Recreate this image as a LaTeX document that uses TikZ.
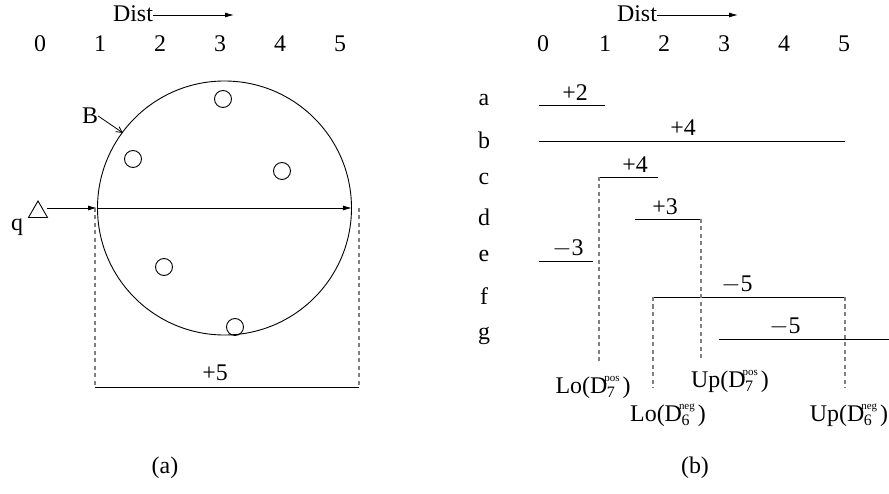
\documentclass[tikz,border=0pt]{standalone}
\usepackage{fontspec}
\setmainfont{Liberation Serif}
\usetikzlibrary{arrows.meta,shapes.geometric}
\newcommand\supsub[2]{%
  \setbox0=\hbox{\fontsize{11}{11}\selectfont #1}%
  \setbox2=\hbox{\fontsize{16}{16}\selectfont #2}%
  \ifdim\wd0>\wd2 \dimen0=\wd0 \else \dimen0=\wd2 \fi
  \hbox to \dimen0{\rlap{\kern-3bp\raise12bp\box0}\kern-0.5bp\lower4bp\box2\hss}}
\begin{document}
\begin{tikzpicture}[x=1bp,y=-1bp,
  txt/.style={inner sep=0pt,font=\fontsize{24}{26}\selectfont},
  seg/.style={line width=0.9bp},
  dsh/.style={line width=1.1bp,gray,dash pattern=on 4bp off 3.5bp},
  arr/.style={-{Latex[length=9bp,width=5bp]},line width=0.9bp},
  small/.style={circle,draw,line width=0.9bp,minimum size=17bp,inner sep=0pt}]
\useasboundingbox (0,0) rectangle (889,494);
% ---------- panel (a)
\node[txt] (dl) at (133,14) {Dist};
\coordinate (dle) at (234,15);
\draw[arr] (dl.east |- dle) -- (dle);
\foreach \i/\x in {0/40,1/100,2/160,3/220,4/280,5/340}
  \node[txt] (l\i) at (\x,44) {\i};
\node[circle,draw,line width=0.9bp,minimum size=254bp,inner sep=0pt] (C) at (224.5,208) {};
\node[small] (s1) at (223,99) {};
\node[small] (s2) at (133,159) {};
\node[small] (s3) at (282,171) {};
\node[small] (s4) at (164,267) {};
\node[small] (s5) at (235,327) {};
\node[txt] (B) at (90,116) {B};
\coordinate (bb) at (123,133);
\draw[-{Straight Barb[length=6bp,width=6bp]},line width=0.8bp] (B.east) -- (bb);
\node[txt] (q) at (17,227) {q};
\node[draw,regular polygon,regular polygon sides=3,minimum size=22bp,inner sep=0pt,line width=0.9bp] (tri) at (38,212) {};
\coordinate (qa) at (47,208);
\draw[arr] (qa) -- (C.west);
\draw[arr] (C.west) -- (C.east);
\coordinate (tl) at (95,208);
\coordinate (bl) at (95,387);
\coordinate (tr) at (359,208);
\coordinate (br) at (359,387);
\draw[dsh] (tl) -- (bl);
\draw[dsh] (tr) -- (br);
\draw[seg] (bl) -- (br);
\node[txt] (p5) at (215,373) {+5};
\node[txt] (capa) at (165,468) {(a)};
% ---------- panel (b)
\node[txt] (dr) at (637,14) {Dist};
\coordinate (dre) at (738,15);
\draw[arr] (dr.east |- dre) -- (dre);
\foreach \i/\x in {0/543,1/605,2/664,3/724,4/784,5/844}
  \node[txt] (r\i) at (\x,44) {\i};
\foreach \n/\y in {a/100,b/140,c/179,d/217,e/256,f/296,g/336}
  \node[txt] (row\n) at (484,\y) {\n};
% a
\coordinate (a1) at (539,105); \coordinate (a2) at (605,105);
\draw[seg] (a1) -- (a2);
\node[txt] (la) at (575,93) {+2};
% b
\coordinate (b1) at (539,141); \coordinate (b2) at (845,141);
\draw[seg] (b1) -- (b2);
\node[txt] (lb) at (683,128) {+4};
% c
\coordinate (c1) at (599,177); \coordinate (c2) at (658,177);
\draw[seg] (c1) -- (c2);
\node[txt] (lc) at (635,165) {+4};
% d
\coordinate (d1) at (635,219); \coordinate (d2) at (701,219);
\draw[seg] (d1) -- (d2);
\node[txt] (ld) at (665,207) {+3};
% e
\coordinate (e1) at (539,261); \coordinate (e2) at (593,261);
\draw[seg] (e1) -- (e2);
\node[txt] (le) at (568,249) {$-$3};
% f
\coordinate (f1) at (653,297); \coordinate (f2) at (845,297);
\draw[seg] (f1) -- (f2);
\node[txt] (lf) at (737,285) {$-$5};
% g
\coordinate (g1) at (719,339); \coordinate (g2) at (889,339);
\draw[seg] (g1) -- (g2);
\node[txt] (lg) at (785,327) {$-$5};
% dashed drops
\coordinate (c3) at (599,364);
\coordinate (d3) at (701,359);
\coordinate (f3) at (653,388);
\coordinate (f4) at (845,388);
\draw[dsh] (c1) -- (c3);
\draw[dsh] (d2) -- (d3);
\draw[dsh] (f1) -- (f3);
\draw[dsh] (f2) -- (f4);
\node[txt,anchor=base] (lo7) at (593,393) {Lo(D\supsub{pos}{7})};
\node[txt,anchor=base] (up7) at (730,387) {Up(D\supsub{pos}{7})};
\node[txt,anchor=base] (lo6) at (668,421) {Lo(D\supsub{neg}{6})};
\node[txt,anchor=base] (up6) at (849,421) {Up(D\supsub{neg}{6})};
\node[txt] (capb) at (695,468) {(b)};
\end{tikzpicture}
\end{document}
